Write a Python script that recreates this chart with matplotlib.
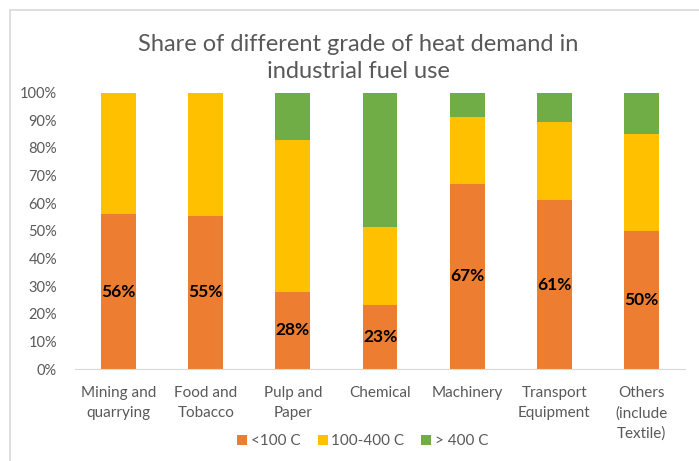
import matplotlib.pyplot as plt
from matplotlib.patches import Rectangle

categories = ['Mining and\nquarrying', 'Food and\nTobacco', 'Pulp and\nPaper', 'Chemical',
              'Machinery', 'Transport\nEquipment', 'Others\n(include\nTextile)']
low = [56, 55.4, 28, 23, 67, 61, 50]
mid = [44, 44.6, 55, 28.5, 24, 28.5, 35]
high = [0, 0, 17, 48.5, 9, 10.5, 15]
series_names = ['<100 C', '100-400 C', '> 400 C']
colors = ['#ED7D31', '#FFC000', '#70AD47']
text_gray = '#595959'

plt.rcParams['font.family'] = ['Lato', 'DejaVu Sans']

fig = plt.figure(figsize=(6.99, 4.61), dpi=100)
ax = fig.add_axes([75 / 699, 92 / 461, 610 / 699, 276.4 / 461])

x = range(len(categories))
bottom2 = [a + b for a, b in zip(low, mid)]
b1 = ax.bar(x, low, width=0.4, color=colors[0], label=series_names[0])
ax.bar(x, mid, width=0.4, bottom=low, color=colors[1], label=series_names[1])
ax.bar(x, high, width=0.4, bottom=bottom2, color=colors[2], label=series_names[2])

# percentage labels on the <100 C segment
ax.bar_label(b1, labels=[f'{round(v)}%' for v in low], label_type='center',
             fontsize=12.5, fontweight='bold', color='black')

ax.set_xlim(-0.5, len(categories) - 0.5)
ax.set_ylim(0, 100)
ax.set_yticks(range(0, 101, 10))
ax.set_yticklabels([f'{v}%' for v in range(0, 101, 10)], fontsize=10.5)
ax.set_xticks(list(x))
ax.set_xticklabels(categories, linespacing=1.55, fontsize=11)
ax.tick_params(axis='both', length=0, colors=text_gray)
ax.tick_params(axis='x', pad=12)
ax.tick_params(axis='y', pad=13)

for side in ['top', 'right', 'left']:
    ax.spines[side].set_visible(False)
ax.spines['bottom'].set_color('#D9D9D9')

fig.text(358 / 699, 1 - 58 / 461, 'Share of different grade of heat demand in\nindustrial fuel use',
         ha='center', va='center', fontsize=17, color=text_gray, linespacing=1.4)

leg = ax.legend(loc='center', bbox_to_anchor=(363 / 699, 1 - 441 / 461), bbox_transform=fig.transFigure,
                ncol=3, frameon=False, fontsize=11, handlelength=0.65, handleheight=0.65,
                handletextpad=0.25, columnspacing=1.1, labelcolor=text_gray)

# chart area border (partially cropped)
fig.patches.append(Rectangle((10 / 699, -0.1), 1.2, 1 - 10 / 461 + 0.1, transform=fig.transFigure,
                             fill=False, edgecolor='#D9D9D9', linewidth=1.2))

fig.savefig('out.png', dpi=100)
